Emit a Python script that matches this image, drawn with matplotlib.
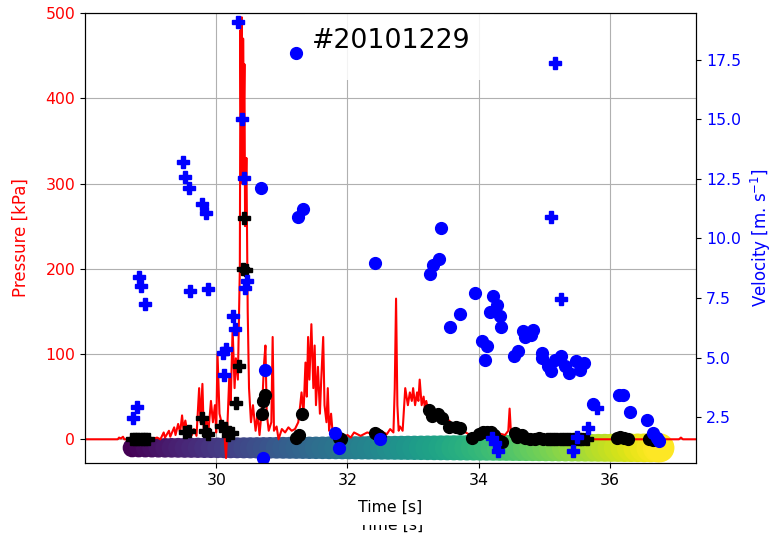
import numpy as np
import matplotlib
matplotlib.use("Agg")
import matplotlib.pyplot as plt
from matplotlib.patches import Rectangle
from matplotlib.transforms import Bbox, TransformedBbox

# pressure trace (time [s], pressure [kPa])
p_time = [28.00, 28.50, 28.52, 28.55, 28.58, 28.60, 28.75, 28.85, 29.00, 29.10,
          29.15, 29.20, 29.22, 29.28, 29.30, 29.36, 29.38, 29.42, 29.45, 29.48,
          29.50, 29.53, 29.56, 29.60, 29.63, 29.66, 29.70, 29.74, 29.76, 29.79,
          29.81, 29.85, 29.88, 29.92, 29.95, 29.98, 30.00, 30.02, 30.05, 30.08,
          30.12, 30.15, 30.17, 30.20, 30.22, 30.25, 30.28, 30.30, 30.33, 30.36,
          30.37, 30.38, 30.39, 30.40, 30.41, 30.42, 30.43, 30.44, 30.46, 30.48,
          30.50, 30.53, 30.56, 30.60, 30.63, 30.66, 30.70, 30.73, 30.75, 30.77,
          30.80, 30.84, 30.86, 30.88, 30.92, 30.95, 31.00, 31.05, 31.10, 31.15,
          31.20, 31.25, 31.28, 31.30, 31.33, 31.36, 31.38, 31.40, 31.42, 31.45,
          31.48, 31.50, 31.52, 31.55, 31.58, 31.60, 31.63, 31.65, 31.68, 31.70,
          31.72, 31.75, 31.78, 31.85, 31.90, 31.95, 32.00, 32.05, 32.10, 32.20,
          32.30, 32.40, 32.50, 32.60, 32.65, 32.70, 32.72, 32.74, 32.76, 32.78,
          32.80, 32.84, 32.88, 32.90, 32.92, 32.95, 32.98, 33.00, 33.03, 33.06,
          33.08, 33.10, 33.13, 33.16, 33.18, 33.20, 33.24, 33.28, 33.32, 33.36,
          33.40, 33.45, 33.50, 33.55, 33.60, 33.65, 33.70, 33.75, 33.80, 33.85,
          33.90, 33.95, 34.00, 34.10, 34.20, 34.30, 34.40, 34.45, 34.47, 34.49,
          34.55, 34.70, 34.90, 35.10, 35.30, 35.32, 35.50, 35.70, 36.00, 36.50,
          37.05, 37.08, 37.11, 37.31]
p_kpa = [0, 0, 2, 1, 3, 0, 0, 1, 0, 2,
         0, 8, 2, 10, 3, 14, 5, 18, 8, 28,
         12, 22, 8, 15, 5, 12, 4, 60, 20, 65,
         10, 25, 8, 45, 20, 40, 8, 100, 30, 20,
         12, -22, 15, 75, 40, 130, 60, 95, 70, 200,
         480, 350, 495, 300, 470, 380, 440, 250, 330, 150,
         60, 20, 40, 10, 30, 5, 40, 90, 110, 30,
         10, 20, 120, 10, 15, 0, 12, 8, 14, 10,
         12, 20, 40, 55, 30, 90, 50, 120, 70, 135,
         60, 110, 40, 85, 30, 70, 120, 40, 20, 60,
         10, 30, 2, 5, 0, 3, 5, 2, 8, 4,
         8, 6, 10, 6, 12, 8, 60, 165, 40, 10,
         15, 10, 60, 50, 40, 55, 45, 60, 40, 55,
         45, 70, 40, 50, 35, 45, 30, 35, 25, 30,
         20, 25, 18, 22, 15, 18, 12, 14, 8, 6,
         4, 5, 3, 6, 4, 7, 5, 10, 36, 8,
         3, 2, 1, 2, 5, 0, 1, 0, 0, 0,
         0, 2, 0, 0]

# black plus markers (pressure axis)
kp_time = [28.72, 28.76, 28.80, 28.84, 28.88, 28.92, 28.96, 29.52, 29.58, 29.78,
           29.83, 29.88, 30.08, 30.14, 30.18, 30.24, 30.30, 30.35, 30.41, 30.43,
           30.46, 35.05, 35.12, 35.18, 35.25, 35.32, 35.38, 35.45, 35.52, 35.58,
           35.65]
kp_kpa = [0, 0, 0, 0, 0, 0, 0, 8, 10, 25,
          10, 6, 16, 13, 5, 7, 42, 86, 200, 260,
          198, 0, 0, 0, 0, 0, 0, 0, 0, 0,
          0]

# black dots (pressure axis)
ko_time = [30.70, 30.72, 30.74, 31.22, 31.26, 31.31, 31.87, 31.90, 32.42, 32.46,
           32.50, 33.24, 33.29, 33.38, 33.44, 33.55, 33.66, 33.71, 33.90, 34.00,
           34.06, 34.12, 34.19, 34.23, 34.32, 34.36, 34.55, 34.58, 34.66, 34.70,
           34.78, 34.85, 34.92, 34.98, 36.10, 36.15, 36.22, 36.28, 36.60, 36.66]
ko_kpa = [30, 45, 52, 2, 5, 30, 2, 0, 7, 5,
          3, 34, 27, 30, 25, 14, 14, 13, 2, 6,
          8, 9, 8, 5, -2, -3, 7, 3, 5, 2,
          0, 0, 1, 0, 2, 3, 2, 0, 0, -1]

# blue plus markers (velocity axis)
bp_time = [28.73, 28.79, 28.82, 28.85, 28.91, 29.50, 29.53, 29.58, 29.60, 29.79,
           29.85, 29.88, 30.10, 30.12, 30.15, 30.25, 30.29, 30.33, 30.39, 30.42,
           30.44, 30.47, 34.20, 34.25, 34.30, 35.10, 35.16, 35.25, 35.44, 35.49,
           35.67, 35.80]
bp_vel = [2.46, 2.92, 8.4, 8.0, 7.25, 13.2, 12.6, 12.1, 7.8, 11.45,
          11.07, 7.88, 5.2, 4.26, 5.35, 6.75, 6.2, 19.1, 15.0, 12.54,
          7.9, 8.2, 1.6, 1.4, 1.07, 10.9, 17.37, 7.46, 1.07, 1.66,
          2.04, 2.88]

# blue dots (velocity axis)
bo_time = [30.68, 30.71, 30.74, 31.21, 31.25, 31.32, 31.81, 31.87, 32.42, 32.49,
           33.25, 33.30, 33.39, 33.42, 33.56, 33.71, 33.94, 34.05, 34.09, 34.12,
           34.17, 34.22, 34.28, 34.33, 34.34, 34.54, 34.60, 34.67, 34.70, 34.75,
           34.79, 34.82, 34.96, 34.97, 35.05, 35.10, 35.16, 35.26, 35.31, 35.37,
           35.48, 35.54, 35.61, 35.74, 36.13, 36.19, 36.30, 36.57, 36.65, 36.71,
           36.75]
bo_vel = [12.12, 0.78, 4.47, 17.8, 10.9, 11.24, 1.83, 1.2, 8.97, 1.58,
          8.5, 8.89, 9.14, 10.44, 6.28, 6.83, 7.7, 5.7, 4.9, 5.5,
          6.9, 7.58, 7.2, 6.74, 6.28, 5.06, 5.27, 6.1, 5.85, 6.0,
          5.95, 6.15, 5.19, 4.98, 4.64, 4.43, 4.9, 5.06, 4.64, 4.35,
          4.85, 4.47, 4.77, 3.05, 3.42, 3.42, 2.71, 2.37, 1.83, 1.62,
          1.5]

# coloured time strip along the bottom
band_time = [28.72, 28.82, 28.92, 29.02, 29.12, 29.22, 29.32, 29.42, 29.52, 29.62,
             29.72, 29.82, 29.92, 30.02, 30.12, 30.22, 30.32, 30.42, 30.52, 30.62,
             30.72, 30.82, 30.92, 31.02, 31.12, 31.22, 31.32, 31.42, 31.52, 31.62,
             31.72, 31.82, 31.92, 32.02, 32.12, 32.22, 32.32, 32.42, 32.52, 32.62,
             32.72, 32.82, 32.92, 33.02, 33.12, 33.22, 33.32, 33.42, 33.52, 33.62,
             33.72, 33.82, 33.92, 34.02, 34.12, 34.22, 34.32, 34.42, 34.52, 34.62,
             34.72, 34.82, 34.92, 35.02, 35.12, 35.22, 35.32, 35.42, 35.52, 35.62,
             35.72, 35.82, 35.92, 36.02, 36.12, 36.22, 36.32, 36.42, 36.52, 36.62,
             36.72, 36.76]
band_level = -10

plt.rcParams["font.size"] = 11.3

fig = plt.figure(figsize=(7.72, 5.35), dpi=100)
ax1 = fig.add_axes([0.110, 0.1346, 0.7916, 0.8411])

bt = np.array(band_time)
diam_px = 19 + 10 * (bt - bt.min()) / (bt.max() - bt.min())
ax1.scatter(bt, np.full(bt.shape, band_level), c=bt, cmap="viridis",
            s=(diam_px * 0.72) ** 2, linewidths=0, zorder=1.8)

ax1.plot(p_time, p_kpa, color="red", lw=1.5, zorder=2)
ax1.plot(kp_time, kp_kpa, "kP", ms=9, zorder=3)
ax1.plot(ko_time, ko_kpa, "ko", ms=8.5, zorder=3)

ax1.set_xlim(28.0, 37.31)
ax1.set_ylim(-27.8, 500)
ax1.set_xticks([30, 32, 34, 36])
ax1.set_yticks([0, 100, 200, 300, 400, 500])
ax1.grid(True)
ax1.set_xlabel("Time [s]", labelpad=9)
ax1.set_ylabel("Pressure [kPa]", color="red", fontsize=12, labelpad=11)
ax1.tick_params(axis="y", labelcolor="red")

# white box behind the shot number
ax1.add_patch(Rectangle((0.36, 0.851), 0.31, 0.149, transform=ax1.transAxes,
                        facecolor="white", edgecolor="none", alpha=0.85,
                        zorder=1.6))
ax1.text(0.5016, 0.937, "#20101229", transform=ax1.transAxes, ha="center",
         va="center", fontsize=19.3, zorder=4)

ax2 = ax1.twinx()
ax2.plot(bp_time, bp_vel, "bP", ms=9)
ax2.plot(bo_time, bo_vel, "bo", ms=8.5)
ax2.set_ylim(0.57, 19.47)
ax2.set_yticks([2.5, 5.0, 7.5, 10.0, 12.5, 15.0, 17.5])
ax2.set_ylabel("Velocity [m. s$^{-1}$]", color="blue", fontsize=12, labelpad=5.5)
ax2.tick_params(axis="y", labelcolor="blue")

# second, partly hidden time label at the very bottom
t2 = fig.text(0.5016 * 0.7916 + 0.110, 10 / 535, "Time [s]", ha="center",
              va="center", fontsize=11.3)
t2.set_clip_box(TransformedBbox(Bbox([[0, 0], [1, 10 / 535]]), fig.transFigure))
t2.set_clip_on(True)

fig.savefig("out.png", dpi=100)
